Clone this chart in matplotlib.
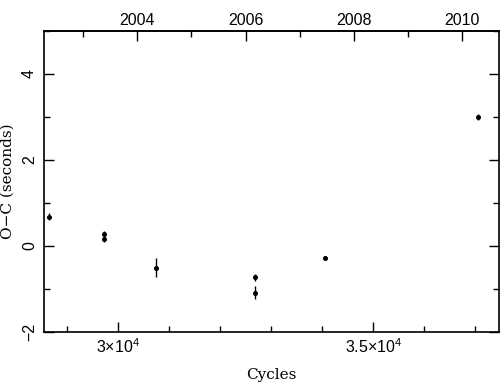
import matplotlib.pyplot as plt
import matplotlib as mpl
import numpy as np
from matplotlib.ticker import MultipleLocator, FixedLocator, FixedFormatter

mpl.rcParams['font.family'] = 'Liberation Sans'
mpl.rcParams['mathtext.default'] = 'regular'
mpl.rcParams['axes.linewidth'] = 1.2

# O-C timing data
cycles = [28655, 29732, 29732, 30738, 32689, 32689, 34047, 37055]
oc = [0.68, 0.28, 0.155, -0.50, -0.73, -1.09, -0.27, 3.0]
oc_err = [0.08, 0.06, 0.06, 0.22, 0.08, 0.15, 0.03, 0.08]

x_ticks = [30000, 35000]
x_tick_labels = [r'$3{\times}10^4$', r'$3.5{\times}10^4$']
year_ticks = [2004, 2006, 2008, 2010]

# cycle <-> calendar year
c0, y0, cpy = 30378.0, 2004.0, 1060.0
def cyc2year(c):
    return y0 + (np.asarray(c) - c0) / cpy
def year2cyc(y):
    return c0 + (np.asarray(y) - y0) * cpy

fig = plt.figure(figsize=(5.04, 3.84), dpi=100)
ax = fig.add_axes([44/504, 1-332/384, 455/504, 301/384])

ax.errorbar(cycles, oc, yerr=oc_err, fmt='o', color='black', ms=2.6,
            elinewidth=1, capsize=0)

ax.set_xlim(28551, 37461)
ax.set_ylim(-2, 5)

ax.xaxis.set_major_locator(FixedLocator(x_ticks))
ax.xaxis.set_major_formatter(FixedFormatter(x_tick_labels))
ax.xaxis.set_minor_locator(MultipleLocator(1000))
ax.yaxis.set_major_locator(MultipleLocator(2))
ax.yaxis.set_minor_locator(MultipleLocator(1))

ax.tick_params(axis='both', which='major', direction='in', length=7, width=1, labelsize=11.5)
ax.tick_params(axis='both', which='minor', direction='in', length=4, width=1)
ax.tick_params(axis='y', which='both', right=True, pad=5)
ax.tick_params(axis='y', labelrotation=90)
for lab in ax.get_yticklabels():
    lab.set_verticalalignment('center')

top = ax.secondary_xaxis('top', functions=(cyc2year, year2cyc))
top.xaxis.set_major_locator(FixedLocator(year_ticks))
top.xaxis.set_minor_locator(MultipleLocator(1))
top.tick_params(which='major', direction='in', length=7, width=1, labelsize=11.5, pad=2)
top.tick_params(which='minor', direction='in', length=4, width=1)

ax.set_xlabel('Cycles', family='DejaVu Serif', fontsize=11, labelpad=9)
ax.set_ylabel('O\u2212C (seconds)', family='DejaVu Serif', fontsize=11, labelpad=5)

plt.savefig('out.png', dpi=100)
